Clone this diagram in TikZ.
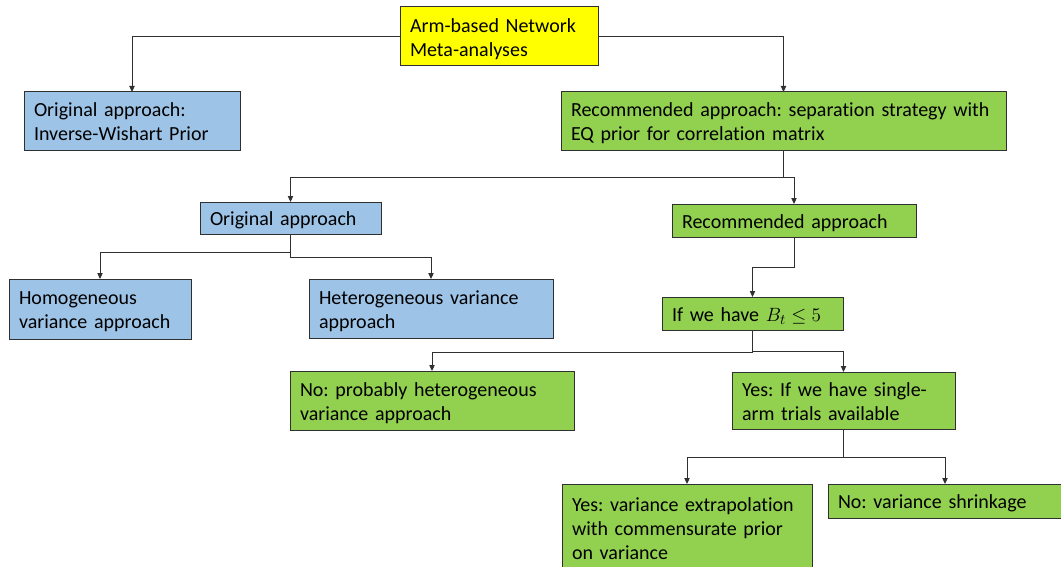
\documentclass[tikz,border=0pt]{standalone}
\usepackage{fontspec}
\setmainfont{Carlito}[Ligatures=NoCommon]
\usetikzlibrary{arrows.meta}

\definecolor{boxyellow}{HTML}{FFFF00}
\definecolor{boxblue}{HTML}{9DC3E6}
\definecolor{boxgreen}{HTML}{92D050}
\definecolor{edgegray}{HTML}{303030}

% left-aligned lines of a box, never re-broken; the taller first row
% sets the text a little below the vertical centre of the box
\newcommand\boxlines[1]{\begin{tabular}{@{}l@{}}\rule{0pt}{17.1pt}#1\end{tabular}}

\tikzset{
  box/.style n args={3}{draw=edgegray, line width=0.75pt, anchor=north west,
    align=left, inner xsep=7.5pt, inner ysep=0pt, outer sep=0pt,
    font=\fontsize{15}{18}\selectfont\frenchspacing,
    minimum width=#1, text width=#2, minimum height=#3},
  yellowbox/.style={fill=boxyellow},
  bluebox/.style={fill=boxblue},
  greenbox/.style={fill=boxgreen},
  arr/.style={draw=edgegray, line width=0.75pt, -{Triangle[length=4.5pt,width=4pt]}}
}

\begin{document}
\begin{tikzpicture}[x=0.75pt, y=-0.75pt]
  \useasboundingbox (0,0) rectangle (1061,567);
  \fill[white] (0,0) rectangle (1061,567);
  \clip (0,0) rectangle (1061,567);

  % root
  \node[box={148.5pt}{133.5pt}{44.25pt}, yellowbox] (root) at (400,7)
    {\boxlines{Arm-based Network\\Meta-analyses}};

  % first level
  \node[box={162pt}{147pt}{43.5pt}, bluebox] (iw) at (24,92)
    {\boxlines{Original approach:\\Inverse-Wishart Prior}};
  \node[box={333.75pt}{318.75pt}{43.5pt}, greenbox] (sep) at (561,92)
    {\boxlines{Recommended approach: separation strategy with\\EQ prior for correlation matrix}};

  % second level
  \node[box={135.75pt}{120.75pt}{24pt}, bluebox] (orig) at (200,202)
    {\boxlines{Original approach}};
  \node[box={183pt}{168pt}{24.75pt}, greenbox] (rec) at (672,204)
    {\boxlines{Recommended approach}};

  % variance approaches
  \node[box={136.5pt}{121.5pt}{45pt}, bluebox] (homo) at (9,279)
    {\boxlines{Homogeneous\\variance approach}};
  \node[box={183pt}{168pt}{44.25pt}, bluebox] (hetero) at (309,279)
    {\boxlines{Heterogeneous variance\\approach}};

  % decision on B_t
  \node[box={135.75pt}{120.75pt}{24.75pt}, greenbox] (bt) at (662,297)
    {\boxlines{If we have $B_t \leq 5$}};

  \node[box={213pt}{198pt}{44.25pt}, greenbox] (nohet) at (290,371)
    {\boxlines{No: probably heterogeneous\\variance approach}};
  \node[box={167.25pt}{152.25pt}{42.75pt}, greenbox] (single) at (732,372)
    {\boxlines{Yes: If we have single-\\arm trials available}};

  % final choices
  \node[box={187.5pt}{172.5pt}{66pt}, greenbox] (extrap) at (562,484)
    {\boxlines{Yes: variance extrapolation\\with commensurate prior\\on variance}};
  \node[box={181.5pt}{166.5pt}{25.5pt}, greenbox] (shrink) at (828,484)
    {\boxlines{No: variance shrinkage}};

  % connectors
  \draw[arr] (root.west) -| (iw.north);
  \draw[arr] (root.east) -| (sep.north);
  \draw[arr] (sep.south) -- ++(0,27) -| (orig.north);
  \draw[arr] (sep.south) -- ++(0,27) -| (rec.north);
  \draw[arr] (orig.south) -- ++(0,18) -| (homo.north);
  \draw[arr] (orig.south) -- ++(0,23) -| (hetero.north);
  \draw[arr] (rec.south) -- ++(0,30) -| (bt.north);
  \draw[arr] (bt.south) -- ++(0,22) -| (nohet.north);
  \draw[arr] (bt.south) -- ++(0,21) -| (single.north);
  \draw[arr] (single.south) -- ++(0,28) -| (extrap.north);
  \draw[arr] (single.south) -- ++(0,28) -| ([xshift=-3pt]shrink.north);
\end{tikzpicture}
\end{document}
